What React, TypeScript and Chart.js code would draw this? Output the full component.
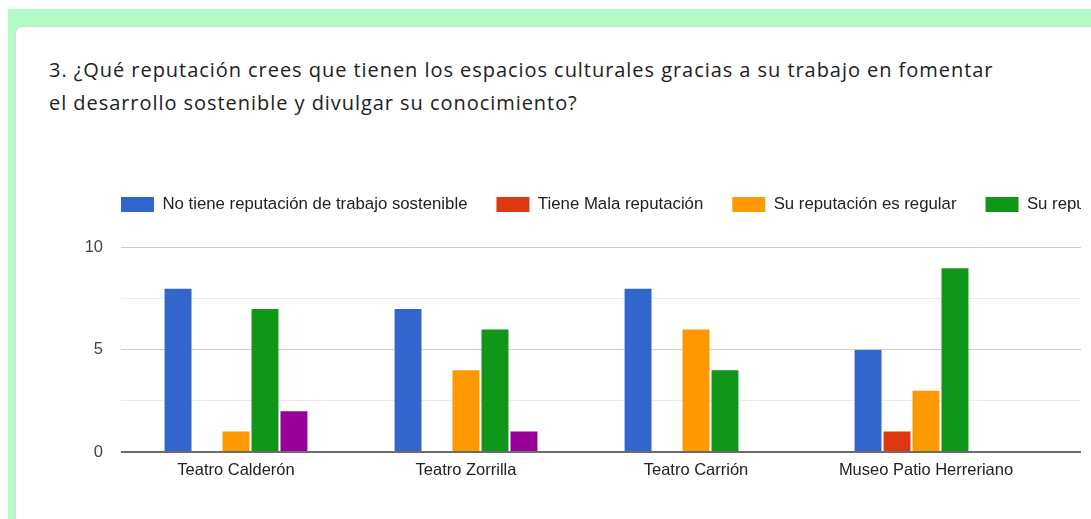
import React, { useEffect, useRef } from "react";
import { Chart, registerables } from "chart.js";

Chart.register(...registerables);

const TITLE_LINES = [
  "3. ¿Qué reputación crees que tienen los espacios culturales gracias a su trabajo en fomentar",
  "el desarrollo sostenible y divulgar su conocimiento?",
];

const categories = [
  "Teatro Calderón",
  "Teatro Zorrilla",
  "Teatro Carrión",
  "Museo Patio Herreriano",
  "Museo de la Ciencia",
];

const seriesLabels = [
  "No tiene reputación de trabajo sostenible",
  "Tiene Mala reputación",
  "Su reputación es regular",
  "Su reputación es buena",
  "Su reputación es muy buena",
];

const noReputation = [8, 7, 8, 5, 6];
const badReputation = [0, 0, 0, 1, 0];
const regularReputation = [1, 4, 6, 3, 2];
const goodReputation = [7, 6, 4, 9, 7];
const veryGoodReputation = [2, 1, 0, 0, 1];

const seriesValues = [noReputation, badReputation, regularReputation, goodReputation, veryGoodReputation];
const seriesColors = ["#3366cc", "#dc3912", "#ff9900", "#109618", "#990099"];

const yTickLabels = [0, 5, 10];

const GREEN = "#b3fcc6";
const FONT = "'Liberation Sans', Arial, sans-serif";
const LEGEND_EXTRA = 25;
const LEGEND_LEFT = 77;

const legendOneRow = {
  id: "legendOneRow",
  afterInit(chart: any) {
    const lg = chart.legend;
    if (!lg || lg.__patched) return;
    const origFit = lg.fit;
    lg.fit = function () {
      const mw = this.maxWidth;
      this.maxWidth = 100000;
      origFit.call(this);
      this.maxWidth = mw;
      this.width = mw;
      this.height = this.height + LEGEND_EXTRA;
    };
    lg.__patched = true;
  },
  afterLayout(chart: any) {
    if (chart.legend) {
      chart.legend.left = LEGEND_LEFT;
      chart.legend.right = 100000;
    }
  },
};

function BarChart() {
  const ref = useRef<HTMLCanvasElement | null>(null);
  useEffect(() => {
    if (!ref.current) return;
    const chart = new Chart(ref.current, {
      type: "bar",
      data: {
        labels: categories,
        datasets: seriesLabels.map((label, i) => ({
          label,
          data: seriesValues[i],
          backgroundColor: seriesColors[i],
          borderWidth: 0,
          categoryPercentage: 0.63,
          barPercentage: 0.93,
        })),
      },
      options: {
        animation: false,
        responsive: false,
        maintainAspectRatio: false,
        layout: { padding: { left: 46, right: 24, top: 16, bottom: 11 } },
        plugins: {
          legend: {
            position: "top",
            align: "start",
            labels: {
              boxWidth: 33,
              boxHeight: 15,
              padding: 29,
              color: "#222",
              font: { family: FONT, size: 16.8 },
            },
          },
          tooltip: { enabled: false },
        },
        scales: {
          x: {
            grid: { display: false, drawTicks: false },
            border: { display: false },
            ticks: {
              color: "#222",
              font: { family: FONT, size: 16.5 },
              padding: 9,
              maxRotation: 0,
              autoSkip: false,
            },
            afterFit(s: any) {
              s.height = 28;
            },
          },
          y: {
            min: 0,
            max: 10,
            border: { display: false },
            grid: {
              drawTicks: false,
              color: (c: any) =>
                c.tick.value === 0 ? "#6b6b6b" : c.tick.value % 5 === 0 ? "#cccccc" : "#ebebeb",
              lineWidth: (c: any) => (c.tick.value === 0 ? 2 : 1),
            },
            ticks: {
              stepSize: 2.5,
              padding: 18,
              color: "#444",
              font: { family: FONT, size: 16.5 },
              callback: (v: any) => (yTickLabels.includes(Number(v)) ? String(v) : ""),
            },
            afterFit(s: any) {
              s.width = 60;
            },
          },
        },
      },
      plugins: [legendOneRow],
    });
    return () => chart.destroy();
  }, []);
  return <canvas ref={ref} width={1280} height={340} style={{ width: 1280, height: 340, display: "block" }} />;
}

export default function App() {
  return (
    <div style={{ position: "fixed", inset: 0, background: "#fff", overflow: "hidden" }}>
      <div style={{ position: "absolute", left: 8, top: 9, right: 0, bottom: 0, background: GREEN }} />
      <div
        style={{
          position: "absolute",
          left: 15,
          top: 26,
          right: -20,
          bottom: -20,
          background: "#fff",
          borderRadius: 8,
          border: "1px solid #dadce0",
          boxSizing: "border-box",
        }}
      />
      <div
        style={{
          position: "absolute",
          left: 49,
          top: 53,
          fontFamily: "'Open Sans', sans-serif",
          fontSize: 20,
          letterSpacing: "0.95px",
          lineHeight: "33px",
          color: "#202124",
          whiteSpace: "nowrap",
        }}
      >
        {TITLE_LINES.map((t, i) => (
          <div key={i}>{t}</div>
        ))}
      </div>
      <div style={{ position: "absolute", left: 15, top: 151, width: 1066, height: 368, overflow: "hidden" }}>
        <BarChart />
      </div>
    </div>
  );
}
